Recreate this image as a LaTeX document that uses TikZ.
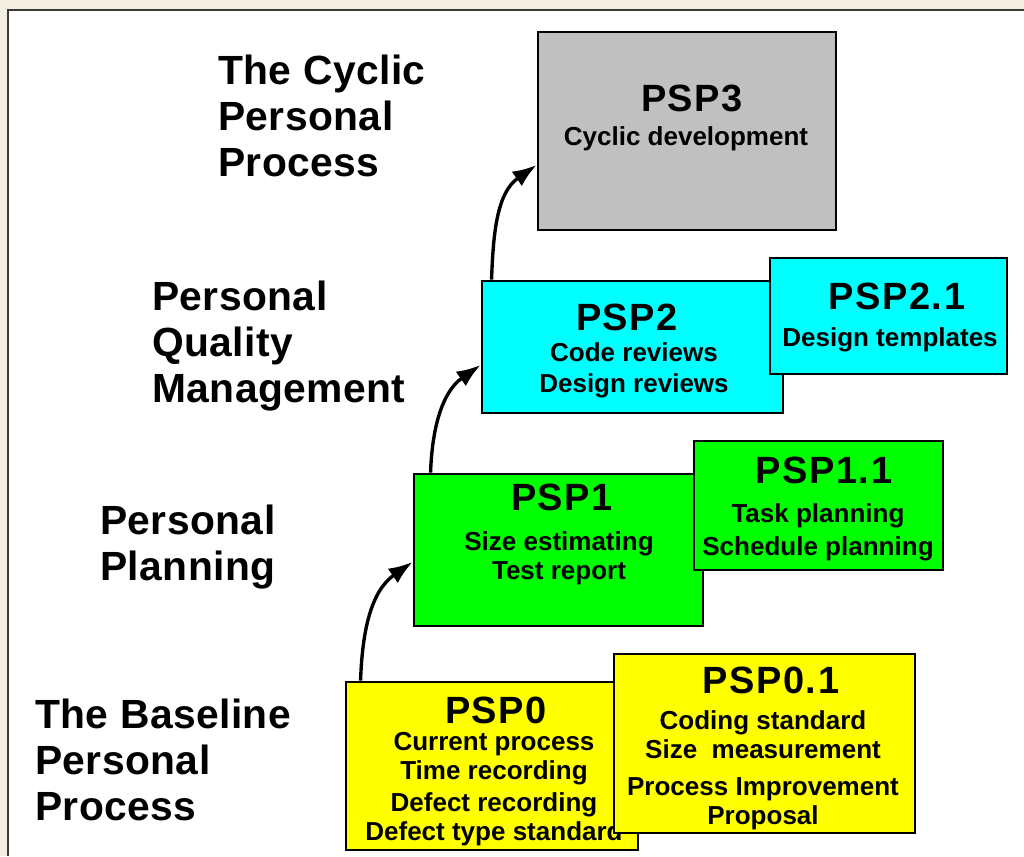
\documentclass[tikz,border=0pt]{standalone}
\usepackage{fontspec}
\setmainfont{Liberation Sans}
\newfontfamily\titlefont[LetterSpace=4]{Liberation Sans}
\newfontfamily\labelfont[LetterSpace=1]{Liberation Sans}
\usetikzlibrary{arrows.meta,positioning}
\definecolor{pagebg}{HTML}{F2EFE2}
\definecolor{panelline}{HTML}{3A3A30}
\definecolor{pspgray}{HTML}{C0C0C0}
\definecolor{pspyellow}{HTML}{FFFF00}
\definecolor{pspgreen}{HTML}{00FF00}
\definecolor{pspcyan}{HTML}{00FFFF}

\begin{document}
\begin{tikzpicture}[x=0.025cm, y=-0.025cm,
    stagebox/.style={draw, line width=2pt, inner sep=0pt},
    stagetitle/.style={anchor=north, inner sep=0pt, font=\titlefont\fontsize{27}{30}\selectfont\bfseries},
    stagetext/.style={anchor=north, inner sep=0pt, align=center, font=\fontsize{18.5}{20.6}\selectfont\bfseries},
    levellabel/.style={anchor=north west, inner sep=0pt, align=left, font=\labelfont\fontsize{29}{32.7}\selectfont\bfseries},
    arr/.style={-{Latex[length=6mm,width=4.4mm]}, line width=2.4pt}
  ]
    % page and panel
    \useasboundingbox (0,0) rectangle (1024,856);
    \fill[pagebg] (0,0) rectangle (1024,856);
    \fill[white] (8,10) rectangle (1024,856);
    \draw[panelline, line width=2pt] (8,856) |- (1024,10);

    % level labels
    \node[levellabel] (cyclic) at (218,55) {The Cyclic\\Personal\\Process};
    \node[levellabel] (quality) at (152,281) {Personal\\Quality\\Management};
    \node[levellabel] (planning) at (100,505) {Personal\\Planning};
    \node[levellabel] (baseline) at (35,699) {The Baseline\\Personal\\Process};

    % PSP3
    \node[stagebox, fill=pspgray, minimum width=7.45cm, minimum height=4.95cm] (psp3) at (687,131) {};
    \node[stagetitle] (psp3t) at (692,85) {PSP3};
    \node[stagetext] (psp3x) at (686,126) {Cyclic development};

    % PSP2 / PSP2.1
    \node[stagebox, fill=pspcyan, minimum width=7.525cm, minimum height=3.3cm] (psp2) at (632.5,347) {};
    \node[stagetitle] (psp2t) at (627,304) {PSP2};
    \node[stagetext] (psp2x) at (634,342) {Code reviews\\[2pt]Design reviews};
    \node[stagebox, fill=pspcyan, minimum width=5.925cm, minimum height=2.9cm] (psp21) at (888.5,316) {};
    \node[stagetitle] (psp21t) at (897,283) {PSP2.1};
    \node[stagetext] (psp21x) at (890,327) {Design templates};

    % PSP1 / PSP1.1
    \node[stagebox, fill=pspgreen, minimum width=7.225cm, minimum height=3.8cm] (psp1) at (558.5,550) {};
    \node[stagetitle] (psp1t) at (562,484) {PSP1};
    \node[stagetext] (psp1x) at (559,531) {Size estimating\\Test report};
    \node[stagebox, fill=pspgreen, minimum width=6.225cm, minimum height=3.225cm] (psp11) at (818.5,505.5) {};
    \node[stagetitle] (psp11t) at (824,457) {PSP1.1};
    \node[stagetext] (psp11x) at (818,503) {Task planning\\[3pt]Schedule planning};

    % PSP0 / PSP0.1
    \node[stagebox, fill=pspyellow, minimum width=7.3cm, minimum height=4.2cm] (psp0) at (492,766) {};
    \node[stagetitle] (psp0t) at (496,697) {PSP0};
    \node[stagetext] (psp0x) at (494,732) {Current process\\Time recording\\[2pt]Defect recording\\Defect type standard};
    \node[stagebox, fill=pspyellow, minimum width=7.525cm, minimum height=4.475cm] (psp01) at (764.5,743.5) {};
    \node[stagetitle] (psp01t) at (771,667) {PSP0.1};
    \node[stagetext] (psp01x) at (763,710) {Coding standard\\Size~ measurement\\[6pt]Process Improvement\\Proposal};

    % steps up
    \draw[arr] ([xshift=0.4cm]psp0.north west) to[out=88,in=215] ([yshift=-0.3cm]psp1.west);
    \draw[arr] ([xshift=0.45cm]psp1.north west) to[out=88,in=215] ([yshift=-0.45cm]psp2.west);
    \draw[arr] ([xshift=0.275cm]psp2.north west) to[out=88,in=215] ([yshift=-0.85cm]psp3.west);
\end{tikzpicture}
\end{document}
